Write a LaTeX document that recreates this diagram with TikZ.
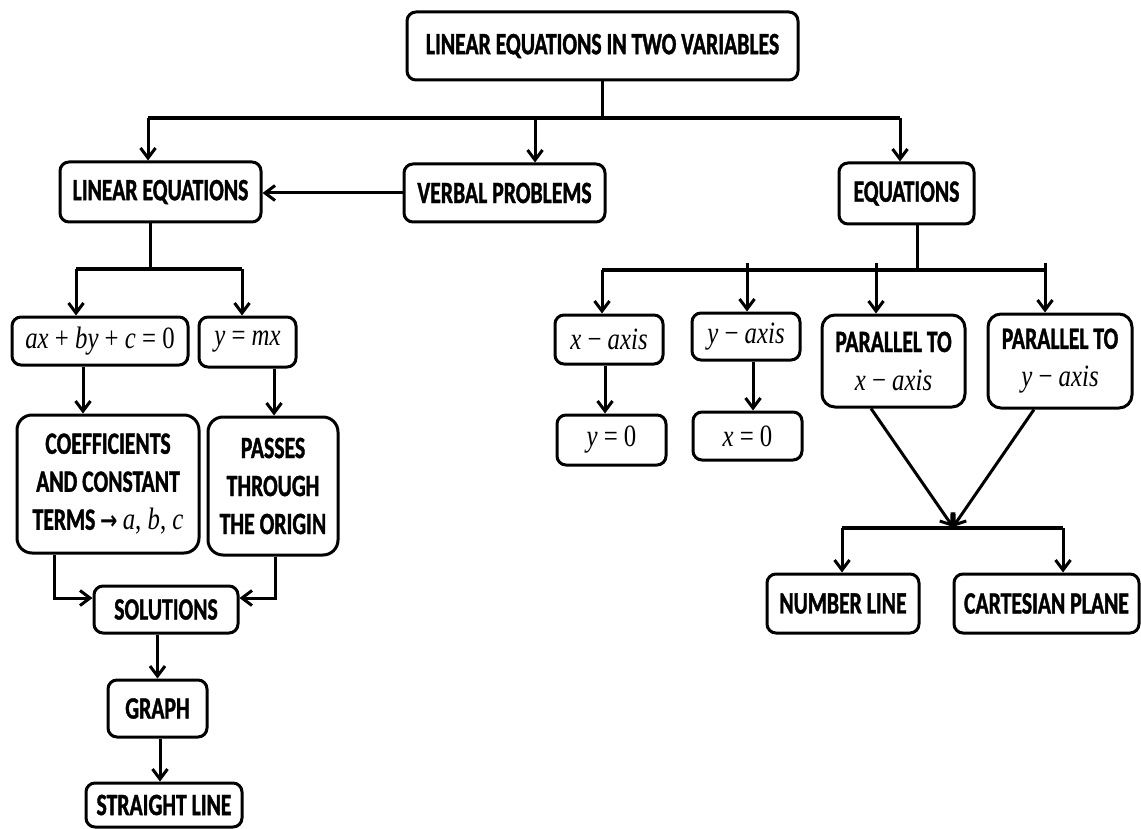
\documentclass[tikz,border=0pt]{standalone}
\usepackage{fontspec}
\setmainfont{Carlito}[FakeStretch=0.7, BoldFeatures={FakeBold=1.2}]
\newfontfamily\formfont{Liberation Serif}[FakeStretch=0.8]
\newfontfamily\arrowfont{DejaVu Sans}[FakeStretch=0.8]
\usetikzlibrary{arrows.meta}
% formula pieces: italic variables, upright operators and digits
\newcommand{\fm}[1]{{\formfont\mdseries\fontsize{31}{38}\selectfont #1}}
\newcommand{\vr}[1]{{\itshape #1}}
\newcommand{\op}[1]{\hspace{0.2em}#1\hspace{0.2em}}

\tikzset{
  box/.style={draw, line width=3pt, rounded corners=9pt, align=center, inner sep=0pt,
    font=\bfseries\fontsize{31}{38}\selectfont},
  bigbox/.style={box, rounded corners=15pt},
  link/.style={line width=3pt},
  bar/.style={line width=4pt},
  arr/.style={line width=3pt, -{Straight Barb[length=10pt,width=15pt]}},
}

\begin{document}
\begin{tikzpicture}[x=1pt, y=-1pt]
\useasboundingbox (0,0) rectangle (1141,829);

% ---------- nodes ----------
\node[box, minimum width=391pt, minimum height=68pt] (top) at (602.5,46) {LINEAR EQUATIONS IN TWO VARIABLES};

\node[box, minimum width=201pt, minimum height=60pt] (lin)  at (160.5,192) {LINEAR EQUATIONS};
\node[box, minimum width=201pt, minimum height=58pt] (verb) at (504.5,193) {VERBAL PROBLEMS};
\node[box, minimum width=135pt, minimum height=61pt] (eqs)  at (906.5,193.5) {EQUATIONS};

\node[box, minimum width=176pt, minimum height=48pt] (ax)  at (100,341)
  {\fm{\vr{ax}\op{+}\vr{by}\op{+}\vr{c}\op{=}0}};
\node[box, minimum width=97pt,  minimum height=50pt] (ymx) at (247.5,342)
  {\fm{\vr{y}\op{=}\vr{mx}}};

\node[bigbox, minimum width=182pt, minimum height=138pt] (coef) at (108,484)
  {COEFFICIENTS\\AND CONSTANT\\TERMS {\arrowfont\fontsize{26}{38}\selectfont →}\,\fm{\vr{a}, \vr{b}, \vr{c}}};
\node[bigbox, minimum width=130pt, minimum height=138pt] (pass) at (273,486)
  {PASSES\\THROUGH\\THE ORIGIN};

\node[box, minimum width=144pt, minimum height=47pt] (sol)      at (166,609.5) {SOLUTIONS};
\node[box, minimum width=99pt,  minimum height=57pt] (graph)    at (157.5,708.5) {GRAPH};
\node[box, minimum width=156pt, minimum height=44pt] (straight) at (164,805) {STRAIGHT LINE};

\node[box, minimum width=108pt, minimum height=49pt] (xax) at (609,339.5)
  {\fm{\vr{x}\op{−}\vr{axis}}};
\node[box, minimum width=108pt, minimum height=47pt] (yax) at (746,336.5)
  {\fm{\vr{y}\op{−}\vr{axis}}};
\node[bigbox, rounded corners=13pt, minimum width=143pt, minimum height=92pt] (px) at (893.5,361)
  {PARALLEL TO\\\fm{\vr{x}\op{−}\vr{axis}}};
\node[bigbox, rounded corners=13pt, minimum width=144pt, minimum height=94pt] (py) at (1060,361)
  {PARALLEL TO\\\fm{\vr{y}\op{−}\vr{axis}}};

\node[box, minimum width=109pt, minimum height=50pt] (y0) at (611.5,440) {\fm{\vr{y}\op{=}0}};
\node[box, minimum width=109pt, minimum height=48pt] (x0) at (747.5,436) {\fm{\vr{x}\op{=}0}};

\node[box, minimum width=152pt, minimum height=59pt] (nl) at (843,603.5) {NUMBER LINE};
\node[box, minimum width=185pt, minimum height=59pt] (cp) at (1046.5,603.5) {CARTESIAN PLANE};

% ---------- junction points ----------
\coordinate (b1l) at (148,118);
\coordinate (b1r) at (900,118);
\coordinate (b1v) at (535,118);

\coordinate (b2)  at (150,269);
\coordinate (b2l) at (76,269);
\coordinate (b2r) at (242,269);

\coordinate (c1) at (83,0);
\coordinate (c2) at (274,0);
\coordinate (c3) at (160,0);
\coordinate (s1) at (54,598);
\coordinate (s2) at (275,598);

\coordinate (e0)  at (917,270);
\coordinate (e1)  at (602,270);
\coordinate (e2)  at (747,263);
\coordinate (e3)  at (876,263);
\coordinate (e4)  at (1045,263);
\coordinate (e4b) at (1045,270);

\coordinate (d1) at (605,0);
\coordinate (d2) at (753,0);
\coordinate (p1) at (871,0);
\coordinate (p2) at (1034,0);
\coordinate (tip) at (953,527);
\coordinate (nlb) at (842,528);
\coordinate (cpb) at (1063,528);

% ---------- connectors: top level ----------
\draw[link] (top.south) -- (top.south |- b1l);
\draw[bar] (b1l) -- (b1r);
\draw[arr] (b1l) -- (b1l |- lin.north);
\draw[arr] (b1v) -- (b1v |- verb.north);
\draw[arr] (b1r) -- (b1r |- eqs.north);
\draw[arr] (verb.west) -- (verb.west -| lin.east);

% ---------- left branch ----------
\draw[link] (b2 |- lin.south) -- (b2);
\draw[bar] (b2l) -- (b2r);
\draw[arr] (b2l) -- (b2l |- ax.north);
\draw[arr] (b2r) -- (b2r |- ymx.north);
\draw[arr] (ax.south -| c1) -- (coef.north -| c1);
\draw[arr] (ymx.south -| c2) -- (pass.north -| c2);
\draw[arr] (coef.south -| s1) -- (s1) -- (s1 -| sol.west);
\draw[arr] (pass.south -| s2) -- (s2) -- (s2 -| sol.east);
\draw[arr] (sol.south -| graph.north) -- (graph.north);
\draw[arr] (graph.south -| c3) -- (straight.north -| c3);

% ---------- right branch ----------
\draw[link] (eqs.south -| e0) -- (e0);
\draw[bar] (e1) -- (e4b);
\draw[arr] (e1) -- (e1 |- xax.north);
\draw[arr] (e2) -- (e2 |- yax.north);
\draw[arr] (e3) -- (e3 |- px.north);
\draw[arr] (e4) -- (e4 |- py.north);
\draw[arr] (xax.south -| d1) -- (y0.north -| d1);
\draw[arr] (yax.south -| d2) -- (x0.north -| d2);
\draw[arr] (px.south -| p1) -- (tip);
\draw[arr] (py.south -| p2) -- (tip);
\draw[bar] (nlb) -- (cpb);
\draw[arr] (nlb) -- (nlb |- nl.north);
\draw[arr] (cpb) -- (cpb |- cp.north);
\end{tikzpicture}
\end{document}
